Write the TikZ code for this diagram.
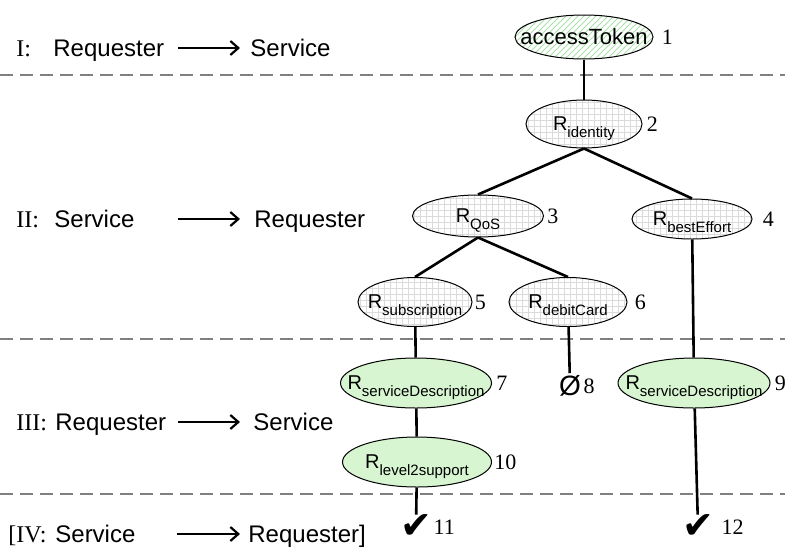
\documentclass[tikz,border=0pt]{standalone}
\usepackage{fontspec}
\setmainfont{Liberation Sans}
\newfontfamily\tnr{Liberation Serif}
\newfontfamily\dejavu{DejaVu Sans}
\usetikzlibrary{positioning, shapes.geometric, patterns}
\usetikzlibrary{arrows.meta}
\tikzset{>={Straight Barb[length=4pt,width=7pt]}}
\newcommand{\rsub}[1]{\makebox[0pt]{R\raisebox{-0.6ex}[0pt][0pt]{\fontsize{7.5}{8}\selectfont #1}}}
\newcommand{\fitin}[1]{\makebox[0pt]{#1}}

\begin{document}
\begin{tikzpicture}[x=0.5pt, y=-0.5pt,
    tree/.style={ellipse, draw=black, line width=0.5pt, inner sep=0pt, font=\fontsize{10}{12}\selectfont},
    ask/.style={tree, pattern=grid, pattern color=black!14},
    token/.style={tree, pattern=north east lines, pattern color={rgb,255:red,170;green,225;blue,170}},
    done/.style={tree, fill={rgb,255:red,214;green,245;blue,208}},
    num/.style={inner sep=0pt, font=\tnr\fontsize{11}{13}\selectfont},
    legend/.style={anchor=base west, inner sep=0pt, font=\fontsize{12}{14}\selectfont},
    roman/.style={legend, font=\tnr\fontsize{12}{14}\selectfont},
    phase/.style={dash pattern=on 6.5pt off 3.5pt, black!50, line width=1.2pt},
    link/.style={line width=1.3pt},
    tick/.style={inner sep=0pt, font=\dejavu\fontsize{19}{22}\selectfont}]
    \useasboundingbox (0,0) rectangle (785,546);

    % phase separators
    \draw[phase] (0,75) -- (785,75);
    \draw[phase] (0,339) -- (785,339);
    \draw[phase] (0,494) -- (785,494);

    % legend
    \node[roman] (r1) at (16,56) {I:};
    \node[legend] (s1) at (53,56) {Requester};
    \node[legend] (t1) at (250,56) {Service};
    \coordinate (a1) at (178,48);
    \coordinate (b1) at (240,48);
    \draw[->, line width=1.1pt] (a1) -- (b1);

    \node[roman] (r2) at (16,227) {II:};
    \node[legend] (s2) at (54,227) {Service};
    \node[legend] (t2) at (254,227) {Requester};
    \coordinate (a2) at (178,219);
    \coordinate (b2) at (240,219);
    \draw[->, line width=1.1pt] (a2) -- (b2);

    \node[roman] (r3) at (16,430) {III:};
    \node[legend] (s3) at (55,430) {Requester};
    \node[legend] (t3) at (253,430) {Service};
    \coordinate (a3) at (178,422);
    \coordinate (b3) at (240,422);
    \draw[->, line width=1.1pt] (a3) -- (b3);

    \node[roman] (r4) at (8,542) {[IV:};
    \node[legend] (s4) at (55,542) {Service};
    \node[legend] (t4) at (248,542) {Requester]};
    \coordinate (a4) at (177,534);
    \coordinate (b4) at (240,534);
    \draw[->, line width=1.1pt] (a4) -- (b4);

    % tree
    \node[token, minimum width=69pt, minimum height=22pt, font=\fontsize{11}{13}\selectfont] (tok) at (584,37) {\fitin{accessToken}};
    \node[ask, minimum width=58pt, minimum height=24pt] (ident) at (584,124) {\rsub{identity}};
    \node[ask, minimum width=65.5pt, minimum height=21pt] (qos) at (478,216) {\rsub{QoS}};
    \node[ask, minimum width=60pt, minimum height=20pt] (best) at (692,219) {\rsub{bestEffort}};
    \node[ask, minimum width=57pt, minimum height=24.5pt] (subs) at (415,302) {\rsub{subscription}};
    \node[ask, minimum width=59pt, minimum height=24.5pt] (debit) at (568,302) {\rsub{debitCard}};
    \node[done, minimum width=75.5pt, minimum height=25pt] (sdA) at (416,383) {\rsub{serviceDescription}};
    \node[inner sep=1pt, font=\fontsize{14}{16}\selectfont] (none) at (570,386) {Ø};
    \node[done, minimum width=76pt, minimum height=25pt] (sdB) at (694,383) {\rsub{serviceDescription}};
    \node[done, minimum width=74.5pt, minimum height=25pt] (lvl) at (417,462) {\rsub{level2support}};
    \node[tick] (okA) at (416,527) {✔};
    \node[tick] (okB) at (698,527) {✔};

    % numbers
    \node[num, right=4pt of tok] (n1) {1};
    \node[num, right=2pt of ident] (n2) {2};
    \node[num, right=1.5pt of qos] (n3) {3};
    \node[num, right=5pt of best] (n4) {4};
    \node[num, right=1pt of subs] (n5) {5};
    \node[num, right=3.5pt of debit] (n6) {6};
    \node[num, right=2pt of sdA] (n7) {7};
    \node[num, right=0pt of none] (n8) {8};
    \node[num, right=2pt of sdB] (n9) {9};
    \node[num, right=1pt of lvl] (n10) {10};
    \node[num, right=0.5pt of okA] (n11) {11};
    \node[num, right=3.5pt of okB] (n12) {12};

    % connectors
    \draw[link] (tok) -- (ident);
    \draw[link] (ident.south) -- (qos.north);
    \draw[link] (ident.south) -- (best.north);
    \draw[link] (qos.south) -- (subs.north);
    \draw[link] (qos.south) -- (debit.north);
    \draw[link] (subs) -- (sdA);
    \draw[link] (debit) -- (none);
    \draw[link] (best) -- (sdB);
    \draw[link] (sdA) -- (lvl);
    \draw[link] (lvl) -- (okA);
    \draw[link] (sdB) -- (okB);
\end{tikzpicture}
\end{document}
